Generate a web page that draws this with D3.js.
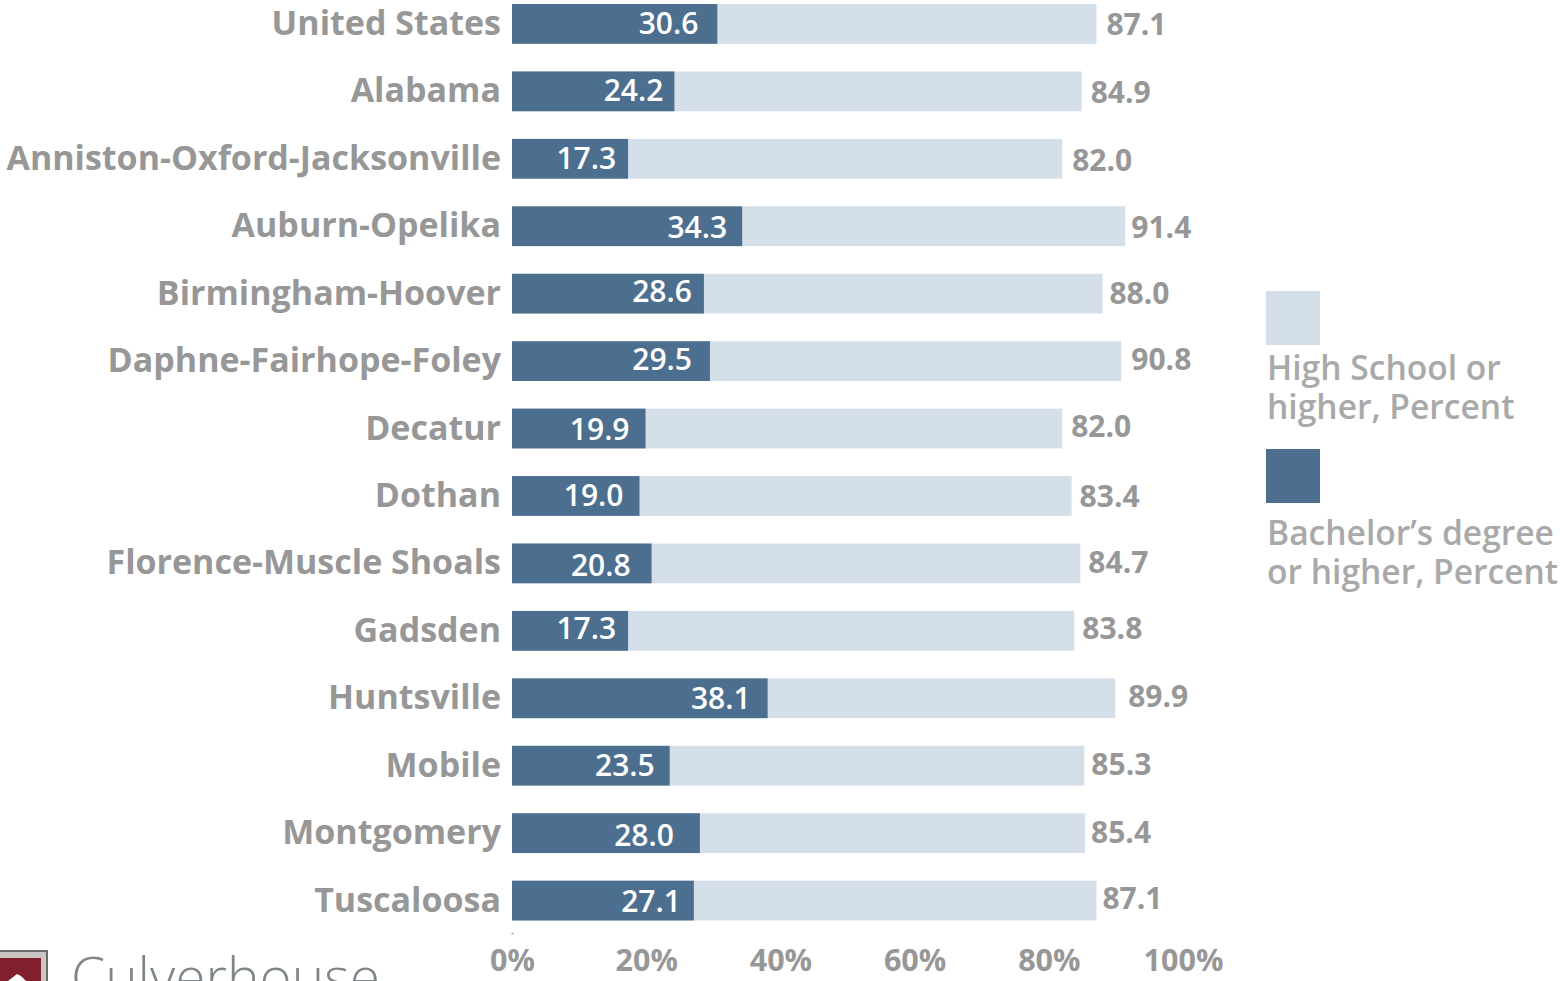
<!DOCTYPE html>
<html>
<head>
<meta charset="utf-8">
<script src="https://cdnjs.cloudflare.com/ajax/libs/d3/7.8.5/d3.min.js"></script>
<style>
    html, body { margin: 0; padding: 0; background: #fff; overflow: hidden; }
    text { font-family: "Open Sans", sans-serif; }
</style>
</head>
<body>
<div id="chart"></div>
<script>
const places = ["United States", "Alabama", "Anniston-Oxford-Jacksonville", "Auburn-Opelika",
    "Birmingham-Hoover", "Daphne-Fairhope-Foley", "Decatur", "Dothan", "Florence-Muscle Shoals",
    "Gadsden", "Huntsville", "Mobile", "Montgomery", "Tuscaloosa"];
const highSchool = [87.1, 84.9, 82.0, 91.4, 88.0, 90.8, 82.0, 83.4, 84.7, 83.8, 89.9, 85.3, 85.4, 87.1];
const bachelor = [30.6, 24.2, 17.3, 34.3, 28.6, 29.5, 19.9, 19.0, 20.8, 17.3, 38.1, 23.5, 28.0, 27.1];
const xTicks = [0, 20, 40, 60, 80, 100];
const legendItems = [
    {color: "#d5dfe9", lines: ["High School or", "higher, Percent"]},
    {color: "#4d6f8f", lines: ["Bachelor\u2019s degree", "or higher, Percent"]}
];

// the value labels were placed by hand in the original, so they don't sit evenly
const insideDx = [19, 11, 12, 15, 12, 18, 16, 16, 21, 12, 17, 15, 26, 13];
const insideDy = [-1, -1, -1, 1, -3, -2, 0, -1, 2, -3, 0, -1, 2, 0];
const outsideDx = [10, 9, 10, 6, 7, 10, 9, 8, 8, 8, 13, 7, 6, 6];
const outsideDy = [0, 1, 1, 1, -1, -2, -3, 0, -1, -3, -2, -2, -1, -3];

const width = 1560, height = 981;
const grey = "#979797";

const svg = d3.select("#chart").append("svg")
    .attr("width", width)
    .attr("height", height);

const xScale = d3.scaleLinear().domain([0, 100]).range([512, 1183]);
const yScale = d3.scaleBand().domain(places).range([-9.8, 934.3]).paddingInner(0.41).paddingOuter(0.205);

places.forEach((place, i) => {
    const y = yScale(place);
    const mid = y + yScale.bandwidth() / 2;

    svg.append("rect")
        .attr("x", xScale(0))
        .attr("y", y)
        .attr("width", xScale(highSchool[i]) - xScale(0))
        .attr("height", yScale.bandwidth())
        .attr("fill", legendItems[0].color);

    svg.append("rect")
        .attr("x", xScale(0))
        .attr("y", y)
        .attr("width", xScale(bachelor[i]) - xScale(0))
        .attr("height", yScale.bandwidth())
        .attr("fill", legendItems[1].color);

    svg.append("text")
        .attr("x", 501)
        .attr("y", mid + 11)
        .attr("text-anchor", "end")
        .attr("font-size", "34px")
        .attr("font-weight", 700)
        .attr("fill", grey)
        .text(place);

    svg.append("text")
        .attr("x", xScale(bachelor[i]) - insideDx[i])
        .attr("y", mid + 11 + insideDy[i])
        .attr("text-anchor", "end")
        .attr("font-size", "30px")
        .attr("font-weight", 600)
        .attr("fill", "#fff")
        .text(bachelor[i].toFixed(1));

    svg.append("text")
        .attr("x", xScale(highSchool[i]) + outsideDx[i])
        .attr("y", mid + 11 + outsideDy[i])
        .attr("font-size", "30px")
        .attr("font-weight", 700)
        .attr("fill", grey)
        .text(highSchool[i].toFixed(1));
});

// x axis, only the first tick mark shows
const xAxis = svg.append("g")
    .attr("transform", "translate(0,932)")
    .call(d3.axisBottom(xScale).tickValues(xTicks).tickFormat(d => d + "%").tickSize(3).tickPadding(14));
xAxis.select(".domain").remove();
xAxis.selectAll("line").attr("stroke", "#c8c8c8").attr("stroke-width", 2)
    .filter(d => d !== 0).remove();
xAxis.selectAll("text")
    .style("font-family", "'Open Sans', sans-serif")
    .style("font-size", "30.5px")
    .style("font-weight", 700)
    .attr("fill", grey);

// legend
const legendTop = [291, 449];
const legendText = [380, 545];
legendItems.forEach((item, i) => {
    svg.append("rect")
        .attr("x", 1266)
        .attr("y", legendTop[i])
        .attr("width", 54)
        .attr("height", 54)
        .attr("fill", item.color);
    item.lines.forEach((line, j) => {
        svg.append("text")
            .attr("x", 1267)
            .attr("y", legendText[i] + j * 39)
            .attr("font-size", "33.6px")
            .attr("font-weight", 600)
            .attr("fill", "#a9a9a9")
            .text(line);
    });
});

// logo, cut off by the bottom of the image
const logo = svg.append("g");
logo.append("rect").attr("x", -10).attr("y", 951).attr("width", 57).attr("height", 45)
    .attr("fill", "#c9c6c4").attr("stroke", "#6e6a6a").attr("stroke-width", 2);
logo.append("rect").attr("x", -10).attr("y", 958).attr("width", 51).attr("height", 30)
    .attr("fill", "#80202f");
logo.append("path").attr("d", "M8 981 L17 974 L21 976 L26 981 Z").attr("fill", "#fff");
logo.append("text")
    .attr("x", 71)
    .attr("y", 997)
    .attr("font-size", "55px")
    .attr("font-weight", 300)
    .attr("fill", "#7f8689")
    .text("Culverhouse");
</script>
</body>
</html>
